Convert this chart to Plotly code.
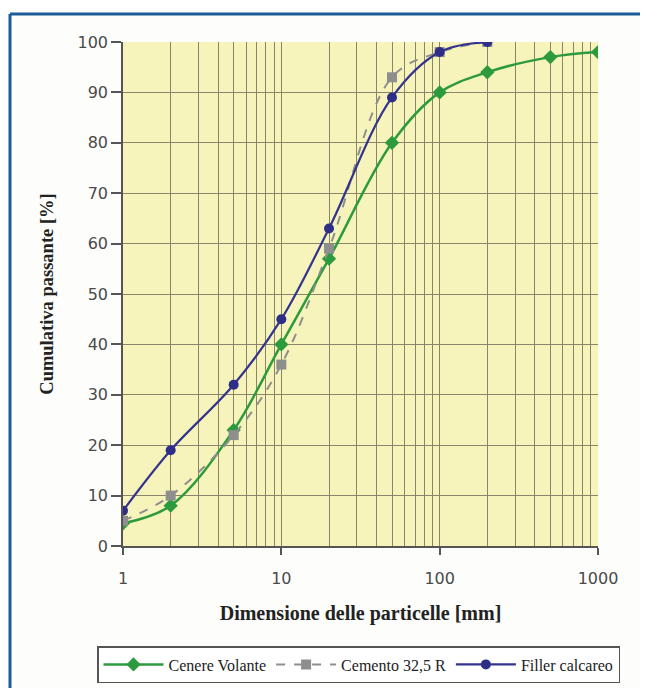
import plotly.graph_objects as go

# Data
x_cenere = [1, 2, 5, 10, 20, 50, 100, 200, 500, 1000]
y_cenere = [4.5, 8, 23, 40, 57, 80, 90, 94, 97, 98]

x_cemento = [1, 2, 5, 10, 20, 50, 100, 200]
y_cemento = [5, 10, 22, 36, 59, 93, 98, 100]

x_filler = [1, 2, 5, 10, 20, 50, 100, 200]
y_filler = [7, 19, 32, 45, 63, 89, 98, 100]

y_ticks = list(range(0, 101, 10))
x_ticks = [1, 10, 100, 1000]

OFF = 8  # page body margin
W, H = 632, 680
L, T = 123 - OFF, 42 - OFF
R = W - (598 - OFF)
B = H - (546 - OFF)
pw, ph = W - L - R, H - T - B

def px(xp):
    return (xp - OFF - L) / pw

def py(yp):
    return (H - B - (yp - OFF)) / ph

fig = go.Figure()
fig.add_trace(go.Scatter(
    x=x_cenere, y=y_cenere, name="Cenere Volante", mode="lines+markers",
    line=dict(color="#2E9A3E", width=2.5, shape="spline", smoothing=1.0),
    marker=dict(symbol="diamond", size=11, color="#2E9A3E")))
fig.add_trace(go.Scatter(
    x=x_cemento, y=y_cemento, name="Cemento 32,5 R", mode="lines+markers",
    line=dict(color="#8E8E8E", width=2, dash="dash", shape="spline", smoothing=1.0),
    marker=dict(symbol="square", size=10, color="#8E8E8E")))
fig.add_trace(go.Scatter(
    x=x_filler, y=y_filler, name="Filler calcareo", mode="lines+markers",
    line=dict(color="#34348F", width=2.2, shape="spline", smoothing=1.0),
    marker=dict(symbol="circle", size=10, color="#2E2E88")))

grid_color = "#8A846B"
fig.update_xaxes(
    type="log", range=[0, 3], tickvals=x_ticks, ticktext=[str(v) for v in x_ticks],
    automargin=False,
    showgrid=True, gridcolor=grid_color, gridwidth=1.2,
    minor=dict(dtick="D1", showgrid=True, gridcolor=grid_color, gridwidth=1.2, ticks=""),
    ticks="outside", ticklen=7, tickcolor="#555555", tickwidth=1.5,
    ticklabelstandoff=10,
    showline=True, linecolor="#555555", linewidth=1.5, mirror=False,
    tickfont=dict(family="DejaVu Sans", size=16, color="#4A4A4A"),
    title=dict(text="<b>Dimensione delle particelle [mm]</b>",
               font=dict(family="Liberation Serif", size=20, color="#222222"), standoff=19),
    zeroline=False)
fig.update_yaxes(
    range=[0, 100], tickvals=y_ticks,
    automargin=False,
    showgrid=True, gridcolor=grid_color, gridwidth=1.2,
    ticks="outside", ticklen=10, tickcolor="#555555", tickwidth=1.5,
    showline=True, linecolor="#555555", linewidth=1.5,
    tickfont=dict(family="DejaVu Sans", size=16, color="#4A4A4A"),
    title=dict(text="<b>Cumulativa passante [%]</b>",
               font=dict(family="Liberation Serif", size=18.5, color="#222222"), standoff=19),
    zeroline=False)

border = dict(color="#1B5C99", width=3)
fig.add_shape(type="line", xref="paper", yref="paper",
              x0=px(10), x1=px(648), y0=py(14), y1=py(14), line=border, layer="above")
fig.add_shape(type="line", xref="paper", yref="paper",
              x0=px(10), x1=px(10), y0=py(14), y1=py(700), line=border, layer="above")

fig.update_layout(
    width=W, height=H,
    margin=dict(l=L, r=R, t=T, b=B, autoexpand=False),
    paper_bgcolor="#FDFDFB",
    plot_bgcolor="#F6F4BA",
    showlegend=True,
    legend=dict(orientation="h", x=px(97), y=py(646), xanchor="left", yanchor="top",
                bordercolor="#555555", borderwidth=1.5, bgcolor="#FFFFFF",
                font=dict(family="Liberation Serif", size=16, color="#222222"),
                itemwidth=60, tracegroupgap=0),
    font=dict(family="Liberation Serif"),
)

fig.write_html("out.html")
